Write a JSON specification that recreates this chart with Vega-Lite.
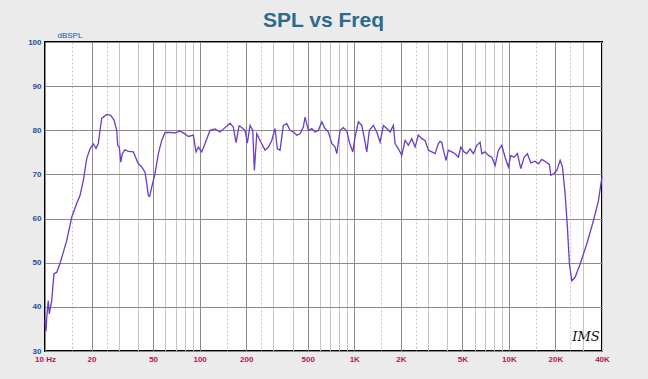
{
  "$schema": "https://vega.github.io/schema/vega-lite/v6.json",
  "width": 557,
  "height": 309,
  "autosize": {"type": "none"},
  "padding": {"left": 45, "top": 42, "right": 46, "bottom": 28},
  "background": "#ebebeb",
  "title": {
    "text": "SPL vs Freq",
    "fontSize": 21,
    "font": "Liberation Sans",
    "fontWeight": "bold",
    "color": "#2d6a8c",
    "anchor": "middle",
    "offset": 0
  },
  "config": {
    "view": {"stroke": "black", "strokeWidth": 2, "fill": "white"}
  },
  "datasets": {
    "spl": [
      {"f": 10, "db": 37},
      {"f": 10.15, "db": 34.5},
      {"f": 10.26, "db": 37.6},
      {"f": 10.5, "db": 41.4},
      {"f": 10.66, "db": 38.4},
      {"f": 11.05, "db": 41.4},
      {"f": 11.43, "db": 47.5},
      {"f": 11.9, "db": 47.8},
      {"f": 12.5, "db": 49.8},
      {"f": 13.82, "db": 55},
      {"f": 14.88, "db": 60.3},
      {"f": 16.03, "db": 63.4},
      {"f": 16.84, "db": 65.2},
      {"f": 17.69, "db": 68.6},
      {"f": 18.61, "db": 73.6},
      {"f": 19.55, "db": 75.8},
      {"f": 20.53, "db": 76.9},
      {"f": 21.37, "db": 75.9},
      {"f": 22.12, "db": 77},
      {"f": 22.69, "db": 80},
      {"f": 23.27, "db": 82.7},
      {"f": 25.07, "db": 83.6},
      {"f": 26.61, "db": 83.4},
      {"f": 27.95, "db": 82.3},
      {"f": 29.1, "db": 80},
      {"f": 29.54, "db": 76.6},
      {"f": 30.25, "db": 76.2},
      {"f": 30.89, "db": 72.8},
      {"f": 31.62, "db": 74.7},
      {"f": 32.92, "db": 75.6},
      {"f": 34.58, "db": 75.2},
      {"f": 37.26, "db": 75.1},
      {"f": 40.13, "db": 72.4},
      {"f": 42.22, "db": 71.7},
      {"f": 44.35, "db": 70.5},
      {"f": 45.49, "db": 67.9},
      {"f": 46.59, "db": 65.2},
      {"f": 47.5, "db": 65},
      {"f": 49.01, "db": 67.1},
      {"f": 51.47, "db": 70.2},
      {"f": 54.07, "db": 74.7},
      {"f": 56.88, "db": 77.7},
      {"f": 59.74, "db": 79.5},
      {"f": 64.35, "db": 79.5},
      {"f": 69.33, "db": 79.4},
      {"f": 74.68, "db": 79.8},
      {"f": 80.46, "db": 79.2},
      {"f": 84.51, "db": 78.6},
      {"f": 91.05, "db": 78.9},
      {"f": 94.78, "db": 75.1},
      {"f": 98.08, "db": 76.2},
      {"f": 103.2, "db": 75.1},
      {"f": 108.4, "db": 77},
      {"f": 116.8, "db": 80},
      {"f": 125.8, "db": 80.3},
      {"f": 135.5, "db": 79.6},
      {"f": 146, "db": 80.6},
      {"f": 157.3, "db": 81.6},
      {"f": 165.2, "db": 80.7},
      {"f": 172, "db": 77.2},
      {"f": 179.9, "db": 81},
      {"f": 182.6, "db": 80.9},
      {"f": 196.6, "db": 80},
      {"f": 203.4, "db": 77.1},
      {"f": 211.8, "db": 81.1},
      {"f": 220.5, "db": 80},
      {"f": 225.9, "db": 70.9},
      {"f": 234.1, "db": 79.2},
      {"f": 245.9, "db": 77.7},
      {"f": 264.9, "db": 75.5},
      {"f": 278.3, "db": 76.2},
      {"f": 292.7, "db": 77.7},
      {"f": 307.4, "db": 80.4},
      {"f": 318.1, "db": 75.8},
      {"f": 331.2, "db": 75.5},
      {"f": 347.8, "db": 81.1},
      {"f": 366, "db": 81.5},
      {"f": 384.4, "db": 80},
      {"f": 403.8, "db": 79.6},
      {"f": 424.8, "db": 78.9},
      {"f": 446.2, "db": 79.2},
      {"f": 468.7, "db": 80.8},
      {"f": 480.7, "db": 83},
      {"f": 504.9, "db": 80},
      {"f": 531.1, "db": 80.4},
      {"f": 557.9, "db": 79.6},
      {"f": 586, "db": 80},
      {"f": 616.4, "db": 81.9},
      {"f": 647.4, "db": 80.4},
      {"f": 680.1, "db": 79.6},
      {"f": 715.4, "db": 77},
      {"f": 751.4, "db": 76.2},
      {"f": 770.6, "db": 74.7},
      {"f": 809.4, "db": 80},
      {"f": 850.3, "db": 80.6},
      {"f": 894.4, "db": 79.8},
      {"f": 929.7, "db": 77.3},
      {"f": 978, "db": 75.1},
      {"f": 1012, "db": 78.5},
      {"f": 1063, "db": 81.9},
      {"f": 1118, "db": 81.1},
      {"f": 1157, "db": 78.5},
      {"f": 1205, "db": 75.1},
      {"f": 1252, "db": 80},
      {"f": 1329, "db": 81.1},
      {"f": 1398, "db": 79.6},
      {"f": 1469, "db": 77.3},
      {"f": 1543, "db": 81.1},
      {"f": 1623, "db": 80.4},
      {"f": 1704, "db": 79.6},
      {"f": 1790, "db": 81.1},
      {"f": 1836, "db": 77},
      {"f": 1929, "db": 75.8},
      {"f": 2029, "db": 74.3},
      {"f": 2132, "db": 77.7},
      {"f": 2238, "db": 76.6},
      {"f": 2354, "db": 78.1},
      {"f": 2474, "db": 76.2},
      {"f": 2597, "db": 78.9},
      {"f": 2733, "db": 78.1},
      {"f": 2871, "db": 77.7},
      {"f": 3015, "db": 75.5},
      {"f": 3171, "db": 75.1},
      {"f": 3332, "db": 74.7},
      {"f": 3499, "db": 77},
      {"f": 3589, "db": 77.5},
      {"f": 3681, "db": 77.3},
      {"f": 3770, "db": 75.5},
      {"f": 3924, "db": 73.2},
      {"f": 4061, "db": 75.5},
      {"f": 4272, "db": 75.1},
      {"f": 4487, "db": 74.7},
      {"f": 4714, "db": 73.9},
      {"f": 4885, "db": 76.2},
      {"f": 5132, "db": 75.1},
      {"f": 5343, "db": 74.7},
      {"f": 5610, "db": 75.8},
      {"f": 5894, "db": 74.7},
      {"f": 6201, "db": 76.6},
      {"f": 6513, "db": 77.3},
      {"f": 6680, "db": 74.7},
      {"f": 7015, "db": 75.1},
      {"f": 7369, "db": 74.3},
      {"f": 7753, "db": 73.9},
      {"f": 8141, "db": 72},
      {"f": 8553, "db": 75.5},
      {"f": 8997, "db": 76.6},
      {"f": 9450, "db": 73.9},
      {"f": 9927, "db": 71.7},
      {"f": 10290, "db": 74.3},
      {"f": 10806, "db": 73.9},
      {"f": 11350, "db": 74.7},
      {"f": 11940, "db": 71.3},
      {"f": 12540, "db": 73.9},
      {"f": 13175, "db": 74.7},
      {"f": 13860, "db": 72.6},
      {"f": 14770, "db": 73},
      {"f": 15516, "db": 72.4},
      {"f": 16325, "db": 73.4},
      {"f": 17400, "db": 72.8},
      {"f": 18280, "db": 72.2},
      {"f": 18665, "db": 69.8},
      {"f": 19610, "db": 70.2},
      {"f": 20415, "db": 70.9},
      {"f": 21450, "db": 73.2},
      {"f": 22200, "db": 71.7},
      {"f": 23100, "db": 65.6},
      {"f": 23900, "db": 58},
      {"f": 24630, "db": 49.7},
      {"f": 25520, "db": 45.9},
      {"f": 26810, "db": 46.7},
      {"f": 28870, "db": 49.7},
      {"f": 31910, "db": 54.3},
      {"f": 35210, "db": 59.5},
      {"f": 37930, "db": 64},
      {"f": 40000, "db": 69.5}
    ],
    "logo": [{"f": 31500, "db": 33.2, "t": "IMS"}]
  },
  "layer": [
    {
      "data": {"name": "spl"},
      "mark": {"type": "line", "color": "#6a3cc8", "strokeWidth": 1.3, "interpolate": "linear"},
      "encoding": {
        "x": {
          "field": "f",
          "type": "quantitative",
          "scale": {"type": "log", "domain": [10, 40000], "nice": false},
          "axis": {
            "title": null,
            "values": [10, 15, 20, 25, 30, 40, 50, 60, 70, 80, 90, 100, 150, 200, 250, 300, 400, 500, 600, 700, 800, 900, 1000, 1500, 2000, 2500, 3000, 4000, 5000, 6000, 7000, 8000, 9000, 10000, 15000, 20000, 25000, 30000, 40000],
            "labelExpr": "indexof([10,20,50,100,200,500,1000,2000,5000,10000,20000,40000], datum.value) < 0 ? '' : (datum.value == 10 ? '10   Hz' : (datum.value >= 1000 ? (datum.value/1000) + 'K' : '' + datum.value))",
            "labelColor": "#b01850",
            "labelFont": "Liberation Sans",
            "labelFontWeight": "bold",
            "labelFontSize": 8,
            "labelOverlap": false,
            "labelFlush": false,
            "labelBound": false,
            "labelPadding": 4,
            "ticks": false,
            "domain": false,
            "grid": true,
            "gridColor": {"condition": {"test": "indexof([10,20,50,100,200,500,1000,2000,5000,10000,20000], datum.value) >= 0", "value": "#8a8a8a"}, "value": "#c4c4c4"},
            "gridDash": {"condition": {"test": "indexof([15,25,150,250,1500,2500,15000,25000], datum.value) >= 0", "value": [2, 2]}, "value": []},
            "gridWidth": 1
          }
        },
        "y": {
          "field": "db",
          "type": "quantitative",
          "scale": {"domain": [30, 100], "nice": false},
          "axis": {
            "title": "dBSPL",
            "titleAngle": 0,
            "titleAlign": "left",
            "titleBaseline": "bottom",
            "titleX": 12,
            "titleY": -3,
            "titleColor": "#2050a0",
            "titleFont": "Liberation Sans",
            "titleFontSize": 8,
            "titleFontWeight": "normal",
            "values": [30, 35, 40, 45, 50, 55, 60, 65, 70, 75, 80, 85, 90, 95, 100],
            "labelExpr": "datum.value % 10 == 0 ? '' + datum.value : ''",
            "labelColor": "#2050a0",
            "labelFont": "Liberation Sans",
            "labelFontWeight": "bold",
            "labelFontSize": 8,
            "labelPadding": 4,
            "labelOverlap": false,
            "labelFlush": false,
            "ticks": false,
            "domain": false,
            "grid": true,
            "gridColor": {"condition": {"test": "datum.value % 10 == 0", "value": "#8a8a8a"}, "value": "#bdbdbd"},
            "gridDash": {"condition": {"test": "datum.value % 10 == 0", "value": []}, "value": [2, 2]},
            "gridWidth": 1
          }
        }
      }
    },
    {
      "data": {"name": "logo"},
      "mark": {"type": "text", "font": "DejaVu Serif", "fontStyle": "italic", "fontSize": 13, "color": "#111111", "align": "center", "baseline": "middle"},
      "encoding": {
        "x": {"field": "f", "type": "quantitative", "scale": {"type": "log"}},
        "y": {"field": "db", "type": "quantitative"},
        "text": {"field": "t"}
      }
    }
  ]
}
